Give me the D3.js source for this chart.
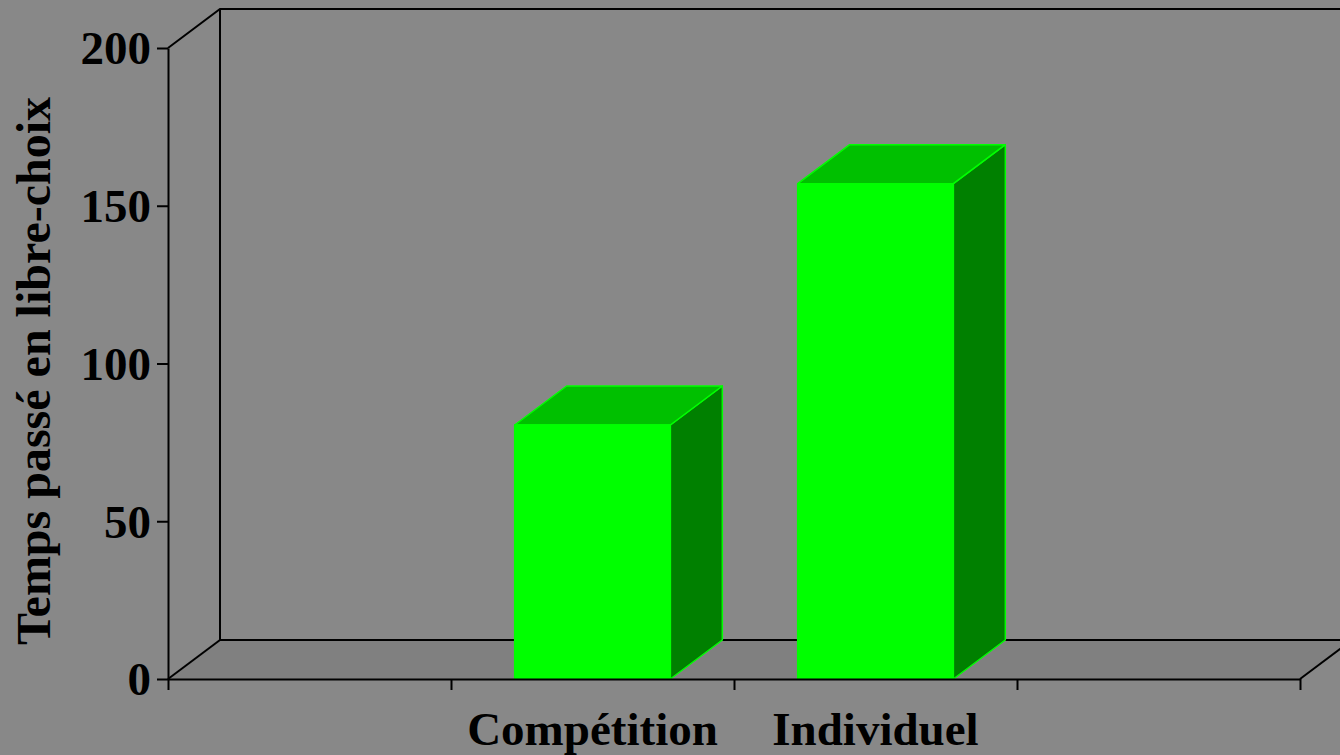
<!DOCTYPE html>
<html>
<head>
<meta charset="utf-8">
<script src="https://cdn.jsdelivr.net/npm/d3@7.9.0/dist/d3.min.js"></script>
<style>
  html, body { margin: 0; padding: 0; background: #888888; }
  svg { display: block; }
  text { font-family: "Liberation Serif", "Times New Roman", serif; font-weight: bold; fill: #000; }
</style>
</head>
<body>
<svg id="chart" width="1340" height="755"></svg>
<script>
// slots along the floor; the outer two are left empty
const categories = ["", "Compétition", "Individuel", ""];
const values = [null, 80.5, 157, null];
const yTicks = [0, 50, 100, 150, 200];
const yTitle = "Temps passé en libre-choix";

const width = 1340, height = 755;
const plotLeft = 168, plotRight = 1300, plotBottom = 679, plotTop = 48;
const depth = { dx: 52, dy: -39 };

const svg = d3.select("#chart");

const y = d3.scaleLinear().domain([0, 200]).range([plotBottom, plotTop]);
const x = d3.scaleBand()
  .domain(d3.range(categories.length))
  .range([plotLeft, plotRight])
  .paddingInner(0.45)
  .paddingOuter(0.225);
const edge = d3.scaleLinear().domain([0, categories.length]).range([plotLeft, plotRight]);

svg.append("rect")
  .attr("width", width)
  .attr("height", height)
  .attr("fill", "#888888");

const y0 = y(0), yMax = y(200);
const line = d3.line();

// floor
svg.append("path")
  .attr("d", line([[plotLeft, y0], [plotRight, y0], [plotRight + depth.dx, y0 + depth.dy], [plotLeft + depth.dx, y0 + depth.dy]]) + "Z")
  .attr("fill", "#808080");

// back wall and side wall outline
const frame = svg.append("g")
  .attr("fill", "none")
  .attr("stroke", "#000")
  .attr("stroke-width", 2);

frame.append("path").attr("d", line([
  [plotLeft, yMax], [plotLeft + depth.dx, yMax + depth.dy], [width + 20, yMax + depth.dy]
]));
frame.append("path").attr("d", line([
  [plotLeft + depth.dx, yMax + depth.dy], [plotLeft + depth.dx, y0 + depth.dy], [plotRight + depth.dx, y0 + depth.dy]
]));
frame.append("path").attr("d", line([[plotLeft, y0], [plotLeft + depth.dx, y0 + depth.dy]]));
frame.append("path").attr("d", line([[plotRight, y0], [plotRight + depth.dx, y0 + depth.dy]]));

// bars
const bars = svg.append("g")
  .selectAll("g")
  .data(values.map((v, i) => ({ i, v })).filter(d => d.v != null))
  .join("g")
  .attr("stroke", "#00ff00")
  .attr("stroke-width", 1.5)
  .attr("stroke-linejoin", "round");

bars.append("path")
  .attr("fill", "#008000")
  .attr("d", d => {
    const x1 = x(d.i) + x.bandwidth(), yv = y(d.v);
    return line([[x1, yv], [x1 + depth.dx, yv + depth.dy], [x1 + depth.dx, y0 + depth.dy], [x1, y0]]) + "Z";
  });

bars.append("path")
  .attr("fill", "#00c000")
  .attr("d", d => {
    const x0 = x(d.i), x1 = x0 + x.bandwidth(), yv = y(d.v);
    return line([[x0, yv], [x0 + depth.dx, yv + depth.dy], [x1 + depth.dx, yv + depth.dy], [x1, yv]]) + "Z";
  });

bars.append("rect")
  .attr("fill", "#00ff00")
  .attr("x", d => x(d.i))
  .attr("y", d => y(d.v))
  .attr("width", x.bandwidth())
  .attr("height", d => y0 - y(d.v));

// y axis
const yAxis = svg.append("g")
  .attr("transform", `translate(${plotLeft},0)`)
  .call(d3.axisLeft(y).tickValues(yTicks).tickSize(11).tickSizeOuter(0).tickPadding(6));
yAxis.select(".domain").attr("stroke", "#000").attr("stroke-width", 2);
yAxis.selectAll(".tick line").attr("stroke", "#000").attr("stroke-width", 2);
yAxis.selectAll(".tick text")
  .attr("font-size", 47)
  .attr("dy", "0.34em");
yAxis.attr("font-family", null).attr("font-size", null);

// x axis with ticks at slot edges
const xAxis = svg.append("g")
  .attr("transform", `translate(0,${y0})`)
  .call(d3.axisBottom(edge).tickValues(d3.range(categories.length + 1)).tickSize(11).tickSizeOuter(0).tickFormat(""));
xAxis.select(".domain").attr("stroke", "#000").attr("stroke-width", 2);
xAxis.selectAll(".tick line").attr("stroke", "#000").attr("stroke-width", 2);

svg.append("g")
  .selectAll("text")
  .data(categories.map((c, i) => ({ c, i })).filter(d => d.c))
  .join("text")
  .attr("x", d => x(d.i) + x.bandwidth() / 2)
  .attr("y", 745)
  .attr("text-anchor", "middle")
  .attr("font-size", 47)
  .text(d => d.c);

svg.append("text")
  .attr("transform", "translate(50,371) rotate(-90)")
  .attr("text-anchor", "middle")
  .attr("font-size", 48)
  .text(yTitle);
</script>
</body>
</html>
